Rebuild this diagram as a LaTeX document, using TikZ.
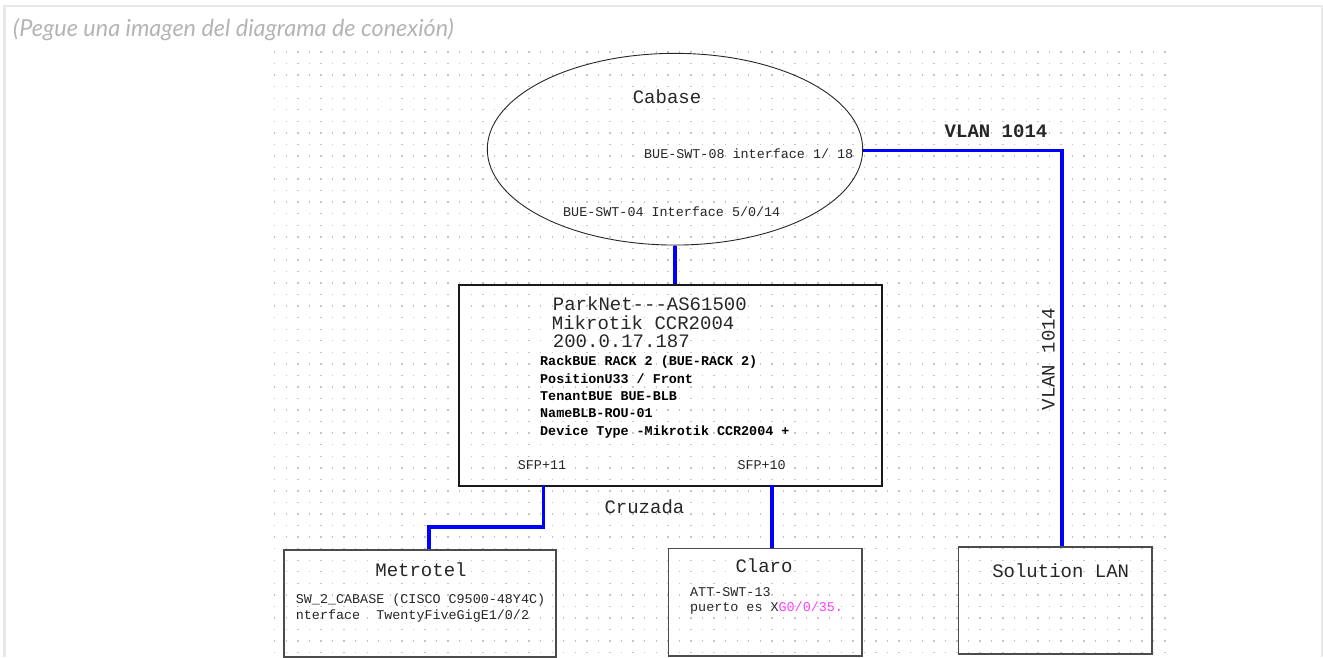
\documentclass[tikz,border=0pt]{standalone}
\usepackage{fontspec}
\setmonofont{Liberation Mono}
\newfontfamily\titlefont{Lato}
\usetikzlibrary{shapes.geometric,positioning}
\definecolor{dotc}{HTML}{C4C4C4}
\definecolor{framec}{HTML}{E8E8E8}
\definecolor{titlec}{HTML}{B4B4B4}
\definecolor{txtc}{HTML}{262626}
\definecolor{pinkc}{HTML}{FF3CFF}
\newcommand{\bigtt}  {\ttfamily\fontsize{19}{21}\selectfont}
\newcommand{\smalltt}{\ttfamily\fontsize{13.4}{15}\selectfont}
\tikzset{
  link/.style={blue,line width=3.6pt},
  device/.style={draw=black!70,line width=1.6pt,inner sep=0pt},
  big/.style={font=\bigtt,text=txtc,inner sep=0pt,anchor=base},
  info/.style={font=\smalltt,text=txtc,inner sep=0pt,anchor=base west},
  infob/.style={info,font=\smalltt\bfseries,text=black},
}

\begin{document}
\begin{tikzpicture}[x=1pt,y=-1pt]
  \useasboundingbox (0,0) rectangle (1323,657);
  % page frame and dotted grid
  \draw[framec,line width=2.6pt] (4.5,657) -- (4.5,6) -- (1321.8,6) -- (1321.8,657);
  \foreach \i in {0,...,77}
    \foreach \j in {0,...,52}
      \fill[dotc] ({274.7+11.563*\i-0.7},{52+11.55*\j-0.7}) rectangle ++(1.4,1.4);
  \node[anchor=base west,inner sep=0pt,text=titlec,font=\titlefont\itshape\fontsize{23.4}{27}\selectfont]
    (title) at (13,36.7) {(Pegue una imagen del diagrama de conexión)};

  % devices
  \node[ellipse,draw=black!85,line width=0.9pt,minimum width=375.4,minimum height=191.7,inner sep=0pt]
    (cabase) at (675,149.2) {};
  \node[device,draw=black!90,anchor=north west,minimum width=422.7,minimum height=200.7] (router) at (458.3,284.3) {};
  \node[device,anchor=north west,minimum width=271.7,minimum height=106.7] (metrotel) at (283.3,549.3) {};
  \node[device,anchor=north west,minimum width=193.3,minimum height=107.3] (claro) at (667.7,547.7) {};
  \node[device,anchor=north west,minimum width=193.6,minimum height=107.4] (solution) at (957.7,546) {};

  % texts
  \node[big] (cabase-t) at (667,103.4) {Cabase};
  \node[info] (swt08) at (644,158) {BUE-SWT-08 interface 1/ 18};
  \node[info] (swt04) at (563,216.3) {BUE-SWT-04 Interface 5/0/14};
  \node[big,anchor=base west] (park) at (552.7,310.7) {ParkNet---AS61500};
  \node[big,anchor=base west] (mikro) at (551.7,329) {Mikrotik CCR2004};
  \node[big,anchor=base west] (ip) at (552.7,347.4) {200.0.17.187};
  \node[infob] (rack) at (540,365.7) {RackBUE RACK 2 (BUE-RACK 2)};
  \node[infob] (pos) at (540,383) {PositionU33 / Front};
  \node[infob] (tenant) at (540,400.7) {TenantBUE BUE-BLB};
  \node[infob] (name) at (540,417.7) {NameBLB-ROU-01};
  \node[infob] (dtype) at (540,435) {Device Type -Mikrotik CCR2004 +};
  \node[info] (sfp11) at (517.7,469) {SFP+11};
  \node[info] (sfp10) at (737.3,469) {SFP+10};
  \node[big,anchor=base west] (cruz) at (604.3,513) {Cruzada};
  \node[big] (metrotel-t) at (421,576.4) {Metrotel};
  \node[info] (sw2) at (295.7,603.3) {SW\_2\_CABASE (CISCO C9500-48Y4C)};
  \node[info] (tfg) at (295.7,619) {nterface\ \ TwentyFiveGigE1/0/2};
  \node[big] (claro-t) at (764,572.7) {Claro};
  \node[info] (att) at (690,596.7) {ATT-SWT-13};
  \node[info] (puerto) at (690,611.7) {puerto es X\textcolor{pinkc}{G0/0/35.}};
  \node[big] (solution-t) at (1060.7,577.2) {Solution LAN};
  \node[big,font=\bigtt\bfseries] (vlan-h) at (996,137.7) {VLAN 1014};
  \node[big,anchor=center,rotate=90] (vlan-v) at (1048.3,359) {VLAN 1014};

  % links
  \coordinate (vlanbend) at (1061.7,150.5);
  \coordinate (p11) at (543.3,485);
  \coordinate (p10) at (771.7,485);
  \coordinate (m-in) at (429,549.3);
  \draw[link] (cabase.south) -- (cabase.south |- router.north);
  \draw[link] (cabase.east |- vlanbend) -- (vlanbend) -- (vlanbend |- solution.north);
  \draw[link] (p11) -- (543.3,526.7) -| (m-in);
  \draw[link] (p10) -- (p10 |- claro.north);
\end{tikzpicture}
\end{document}
